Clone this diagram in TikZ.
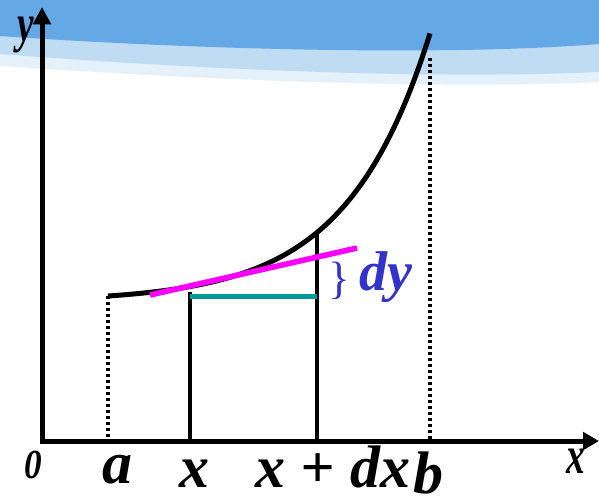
\documentclass[tikz,border=0pt]{standalone}
\usepackage{fontspec}
\setmainfont{Liberation Serif}
\usepackage{xcolor}
\usetikzlibrary{arrows.meta}
\definecolor{banddark}{RGB}{100,168,230}
\definecolor{bandpale}{RGB}{192,220,243}
\definecolor{bandfade}{RGB}{228,240,250}
\definecolor{dyblue}{RGB}{51,51,204}
\definecolor{stripteal}{RGB}{0,153,153}
\definecolor{tanmag}{RGB}{255,0,255}

\begin{document}
\begin{tikzpicture}[x=0.75pt,y=-0.75pt,
  axis/.style={line width=3.75pt,{Triangle[width=13pt,length=13pt]}-{Triangle[width=13pt,length=12pt]}},
  graph/.style={line width=3.75pt},
  dotline/.style={line width=2.4pt,dash pattern=on 2.4pt off 2.1pt},
  ordline/.style={line width=3.3pt},
  lab/.style={font=\fontsize{45}{45}\selectfont\bfseries\itshape,inner sep=0pt,anchor=base},
  axlab/.style={font=\fontsize{40}{40}\selectfont\bfseries\itshape,inner sep=0pt,anchor=base,xscale=0.7}]
\useasboundingbox (0,0) rectangle (599,497);
% slide background
\fill[bandfade] (0,0) -- (599,0) -- (599,82) .. controls (420,90) and (180,78) .. (0,66) -- cycle;
\fill[bandpale] (0,0) -- (599,0) -- (599,72) .. controls (420,80) and (180,68) .. (0,54) -- cycle;
\fill[banddark] (0,0) -- (599,0) -- (599,44) .. controls (450,56) and (200,50) .. (0,36) -- cycle;
% points
\coordinate (O) at (42,441);
\coordinate (xend) at (599,441);
\coordinate (yend) at (42,7);
\coordinate (A) at (108,296);
\coordinate (Afoot) at (108,441);
\coordinate (Bdot) at (430,58);
\coordinate (Bfoot) at (430,441);
\coordinate (P) at (190,292);
\coordinate (Pmid) at (190,296);
\coordinate (Pfoot) at (190,441);
\coordinate (Q) at (317,233);
\coordinate (Qmid) at (317,296);
\coordinate (Qfoot) at (317,441);
\coordinate (T1) at (150,295);
\coordinate (T2) at (357,248);
% ordinates
\draw[dotline] (A) -- (Afoot);
\draw[dotline] (Bdot) -- (Bfoot);
\draw[ordline] (P) -- (Pfoot);
\draw[ordline] (Q) -- (Qfoot);
\draw[stripteal,line width=3.75pt] (Pmid) -- (Qmid);
% axes and curve
\draw[axis] (yend) -- (O) -- (xend);
\draw[graph] plot[domain=108:430,samples=100] (\x,{296-5.64*(exp(0.012*(\x-108))-1)});
\draw[tanmag,line width=4.2pt] (T1) -- (T2);
% labels
\node[axlab] (ylab) at (26,41) {y};
\node[lab,font=\fontsize{31}{31}\selectfont\bfseries\itshape,xscale=0.85] (zero) at (33,478) {0};
\node[lab] (alab) at (117,483) {a};
\node[lab] (xlab) at (194,487) {x};
\node[lab] (xdxlab) at (333,487) {x + dx};
\node[lab] (blab) at (428,493) {b};
\node[axlab] (xaxlab) at (576,473) {x};
\node[inner sep=0pt,dyblue,font=\fontsize{34}{34}\selectfont] (brace) at (339,281) {\}};
\node[lab,dyblue,font=\fontsize{42}{42}\selectfont\bfseries\itshape] (dylab) at (386,290) {dy};
\end{tikzpicture}
\end{document}
